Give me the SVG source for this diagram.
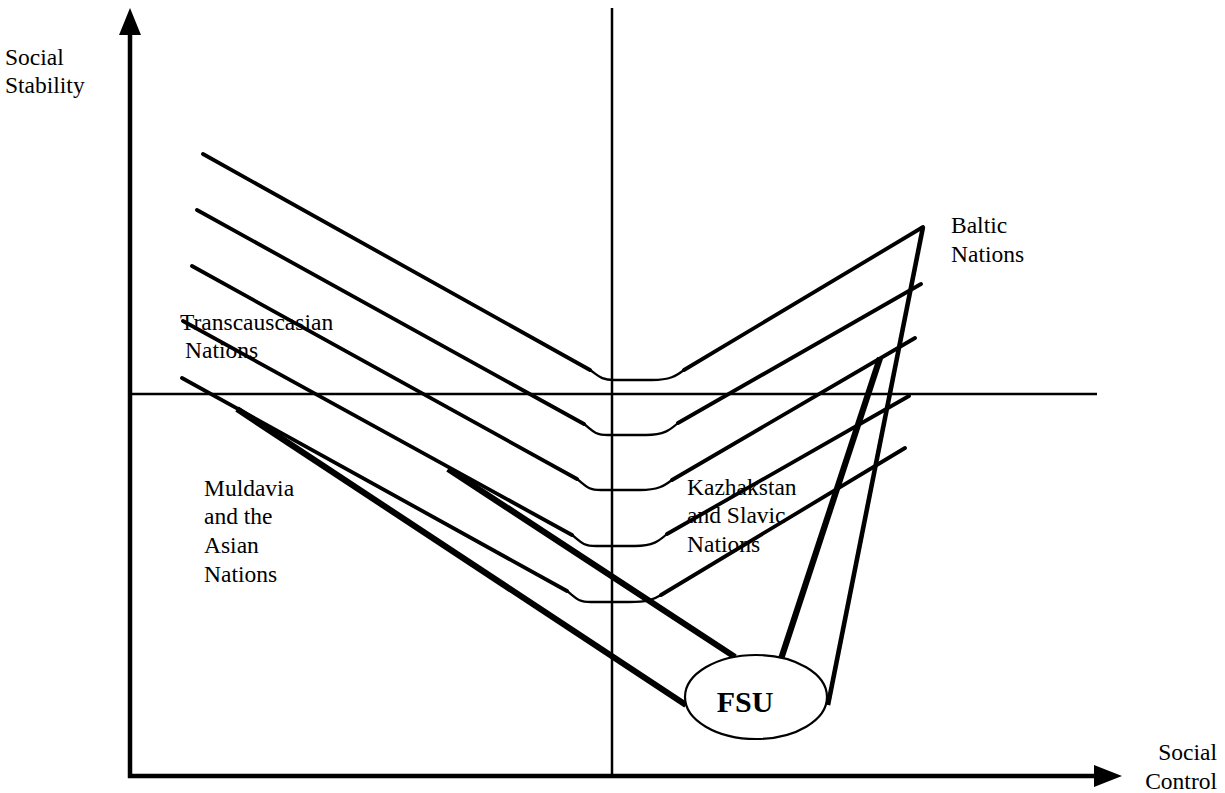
<svg xmlns="http://www.w3.org/2000/svg" width="1225" height="793" viewBox="0 0 1225 793">
  <style>
    .lbl { font-family: "Liberation Serif", "Times New Roman", serif; font-size: 23.5px; fill: #000; }
    .axis { stroke: #000; stroke-width: 4.5; fill: none; }
    .guide { stroke: #000; stroke-width: 2.5; fill: none; }
    .arm { stroke: #000; stroke-width: 3.8; fill: none; stroke-linecap: round; }
    .bend { stroke: #000; stroke-width: 2.3; fill: none; }
    .link { stroke: #000; stroke-width: 6.2; fill: none; stroke-linecap: butt; }
    .link-thin { stroke: #000; stroke-width: 4.6; fill: none; stroke-linecap: butt; }
  </style>

  <rect width="1225" height="793" fill="#fff"/>

  <!-- axes -->
  <g id="axes">
    <line class="axis" x1="130" y1="30" x2="130" y2="778"/>
    <polygon points="130,8 119,35 141,35" fill="#000"/>
    <line class="axis" x1="128" y1="776" x2="1098" y2="776"/>
    <polygon points="1122,776 1094,765 1094,787" fill="#000"/>
    <!-- quadrant guides -->
    <line class="guide" x1="612" y1="8" x2="612" y2="776"/>
    <line class="guide" x1="130" y1="394" x2="1097" y2="394"/>
  </g>

  <!-- connectors: V-shaped trajectories and links to FSU -->
  <g id="connectors">
    <!-- trajectory 1 -->
    <line class="arm" x1="203" y1="154" x2="590" y2="370"/>
    <path class="bend" d="M590,370 C598,375 600,380 614,380 L652,380 C670,380 676,376 684,370"/>
    <line class="arm" x1="684" y1="370" x2="923" y2="227"/>
    <!-- trajectory 2 -->
    <line class="arm" x1="197" y1="210" x2="584" y2="424"/>
    <path class="bend" d="M584,424 C592,430 594,435 608,435 L646,435 C664,435 670,430 678,423"/>
    <line class="arm" x1="678" y1="423" x2="921" y2="284"/>
    <!-- trajectory 3 -->
    <line class="arm" x1="192" y1="266" x2="577" y2="479"/>
    <path class="bend" d="M577,479 C585,485 587,490 601,490 L640,490 C658,490 664,486 672,480"/>
    <line class="arm" x1="672" y1="480" x2="915" y2="338"/>
    <!-- trajectory 4 -->
    <line class="arm" x1="183" y1="321" x2="572" y2="535"/>
    <path class="bend" d="M572,535 C580,541 582,546 596,546 L635,546 C653,546 659,541 667,534"/>
    <line class="arm" x1="667" y1="534" x2="909" y2="396"/>
    <!-- trajectory 5 -->
    <line class="arm" x1="182" y1="378" x2="567" y2="591"/>
    <path class="bend" d="M567,591 C575,597 577,602 591,602 L629,602 C647,602 653,600 661,595"/>
    <line class="arm" x1="661" y1="595" x2="905" y2="448"/>

    <!-- links into FSU -->
    <line class="link" x1="237" y1="409" x2="686" y2="705"/>
    <line class="link" x1="448" y1="469" x2="735" y2="657"/>
    <line class="link" x1="880" y1="358" x2="781" y2="659"/>
    <line class="link-thin" x1="923" y1="227" x2="828" y2="705"/>
  </g>

  <!-- FSU node -->
  <g id="node-fsu">
    <ellipse cx="756" cy="697" rx="71" ry="42" fill="#fff" stroke="#000" stroke-width="2.2"/>
    <text x="745" y="712" text-anchor="middle" font-family="Liberation Serif, Times New Roman, serif" font-size="30" font-weight="bold">FSU</text>
  </g>

  <!-- axis titles -->
  <g id="label-y-axis">
    <text class="lbl" x="5" y="65">Social</text>
    <text class="lbl" x="5" y="93">Stability</text>
  </g>
  <g id="label-x-axis">
    <text class="lbl" x="1217" y="760" text-anchor="end">Social</text>
    <text class="lbl" x="1217" y="789" text-anchor="end">Control</text>
  </g>

  <!-- group labels -->
  <g id="node-baltic">
    <text class="lbl" x="951" y="233">Baltic</text>
    <text class="lbl" x="951" y="262">Nations</text>
  </g>
  <g id="node-transcaucasian">
    <text class="lbl" x="180" y="330">Transcauscasian</text>
    <text class="lbl" x="185" y="358">Nations</text>
  </g>
  <g id="node-muldavia">
    <text class="lbl" x="204" y="496">Muldavia</text>
    <text class="lbl" x="204" y="524">and the</text>
    <text class="lbl" x="204" y="553">Asian</text>
    <text class="lbl" x="204" y="582">Nations</text>
  </g>
  <g id="node-kazakhstan">
    <text class="lbl" x="687" y="495">Kazhakstan</text>
    <text class="lbl" x="687" y="523">and Slavic</text>
    <text class="lbl" x="687" y="552">Nations</text>
  </g>
</svg>
